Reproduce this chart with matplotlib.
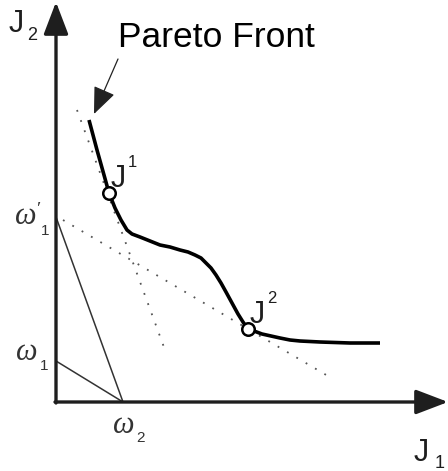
import matplotlib
matplotlib.use("Agg")
import matplotlib.pyplot as plt

# Pareto front in (J1, J2) objective space, origin at the axes corner
front_j1 = [33, 41, 48, 53, 59, 65, 71, 76, 84, 94, 104, 114, 124, 132, 139, 145, 150, 155,
            160, 165, 170, 176, 182, 187, 192, 198, 206, 215, 224, 234, 244, 264, 294, 324]
front_j2 = [282, 252, 227, 209, 194, 182, 172, 168, 165, 161, 157, 155, 152, 150, 147, 144,
            139, 134, 127, 119, 110, 99, 88, 80, 73, 71, 68, 66, 64, 62, 61, 60, 59, 59]

# two solutions marked on the front
sol_names = ["1", "2"]
sol_j1 = [53, 192]
sol_j2 = [209, 73]

# supporting (tangent) lines through J^1 and J^2
tangent1_j1 = [21, 109]
tangent1_j2 = [292, 52]
tangent2_j1 = [7, 277]
tangent2_j2 = [182, 23]

# weight lines: (0, w1')-(w2, 0) and (0, w1)-(w2, 0)
w1_prime = 185
w1 = 41
w2 = 67

fig = plt.figure(figsize=(4.48, 4.71), dpi=100)
ax = fig.add_axes([0, 0, 1, 1])
ax.set_xlim(-56, 392)
ax.set_ylim(-69, 402)
ax.axis("off")

sans = "Liberation Sans"
serif = "Liberation Serif"
ink = "#1e1e1e"

# axes with arrow heads
arrow_kw = dict(arrowstyle="-|>,head_length=1.1,head_width=0.42", color=ink,
                lw=2.4, mutation_scale=18, shrinkA=0, shrinkB=0)
ax.annotate("", xy=(0, 400), xytext=(0, -1), arrowprops=arrow_kw)
ax.annotate("", xy=(392, 0), xytext=(-1, 0), arrowprops=arrow_kw)

# weight lines
ax.plot([0, w2], [w1_prime, 0], color="#333333", lw=1.1)
ax.plot([0, w2], [w1, 0], color="#333333", lw=1.1)

# tangent lines
ax.plot(tangent1_j1, tangent1_j2, color="#555555", lw=1.3, ls=(0, (1, 5)))
ax.plot(tangent2_j1, tangent2_j2, color="#555555", lw=1.3, ls=(0, (1, 5)))

# the front itself
ax.plot(front_j1, front_j2, color="black", lw=2.6, solid_capstyle="butt",
        solid_joinstyle="round", zorder=3)
ax.plot(sol_j1, sol_j2, ls="none", marker="o", ms=9, mfc="white", mec="black",
        mew=1.8, zorder=4)

# labels of the solutions
for name, x, y in zip(sol_names, sol_j1, sol_j2):
    ax.text(x + 2, y + 6, "J", fontsize=22, family=sans, color=ink,
            ha="left", va="baseline")
    ax.text(x + 19, y + 26, name, fontsize=12, family=sans, color=ink,
            ha="left", va="baseline")

# axis labels
ax.text(-47, 370, "J", fontsize=22, family=sans, color=ink, va="baseline")
ax.text(-29, 362, "2", fontsize=13, family=sans, color=ink, va="baseline")
ax.text(358, -59, "J", fontsize=22, family=sans, color=ink, va="baseline")
ax.text(379, -66, "1", fontsize=13, family=sans, color=ink, va="baseline")

# omega labels
ax.text(-41, 178, "\u03c9", fontsize=22, family=serif, style="italic",
        color="#333333", va="baseline")
ax.text(-20, 187, "\u2032", fontsize=14, family=serif, color="#333333", va="baseline")
ax.text(-15, 167, "1", fontsize=11, family=sans, color="#333333", va="baseline")
ax.text(-40, 42, "\u03c9", fontsize=22, family=serif, style="italic",
        color="#333333", va="baseline")
ax.text(-16, 32, "1", fontsize=11, family=sans, color="#333333", va="baseline")
ax.text(57, -31, "\u03c9", fontsize=22, family=serif, style="italic",
        color="#333333", va="baseline")
ax.text(80, -40, "2", fontsize=11, family=sans, color="#333333", va="baseline")

# title with pointer to the front
ax.text(160, 355, "Pareto Front", fontsize=25.5, family=sans, color="black",
        ha="center", va="baseline")
ax.annotate("", xy=(38, 288), xytext=(62, 343),
            arrowprops=dict(arrowstyle="-|>,head_length=1.2,head_width=0.5",
                            color="#222222", lw=0.9, mutation_scale=14,
                            shrinkA=0, shrinkB=0))

fig.savefig("out.png", dpi=100)
